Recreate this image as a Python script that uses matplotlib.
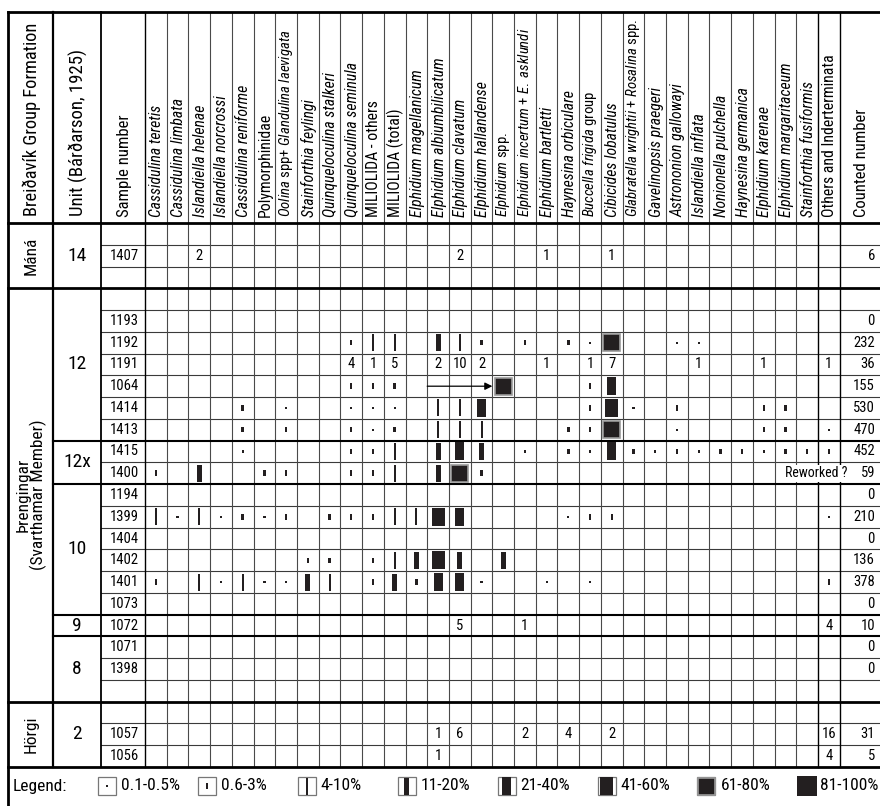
import re
import matplotlib.pyplot as plt
from matplotlib import font_manager
from matplotlib.patches import Rectangle

# ---- data -------------------------------------------------------------
species = ['*Cassidulina teretis*', '*Cassidulina limbata*', '*Islandiella helenae*',
           '*Islandiella norcrossi*', '*Cassidulina reniforme*', 'Polymorphinidae',
           '*Oolina* spp+ *Glandulina laevigata*', '*Stainforthia feylingi*',
           '*Quinqueloculina stalkeri*', '*Quinqueloculina seminula*', 'MILIOLIDA - others',
           'MILIOLIDA (total)', '*Elphidium magellanicum*', '*Elphidium albiumbilicatum*',
           '*Elphidium clavatum*', '*Elphidium hallandense*', '*Elphidium* spp.',
           '*Elphidium incertum* + *E. asklundi*', '*Elphidium bartletti*',
           '*Haynesina orbiculare*', '*Buccella frigida* group', '*Cibicides lobatulus*',
           '*Glabratella wrightii* + *Rosalina* spp.', '*Gavelinopsis praegeri*',
           '*Astrononion gallowayi*', '*Islandiella inflata*', '*Nonionella pulchella*',
           '*Haynesina germanica*', '*Elphidium karenae*', '*Elphidium margaritaceum*',
           '*Stainforthia fusiformis*', 'Others and Inderterminata']

samples = ['', '1407', '', '', '1193', '1192', '1191', '1064', '1414', '1413', '1415', '1400',
           '1194', '1399', '1404', '1402', '1401', '1073', '1072', '1071', '1398', '', '',
           '1057', '1056']
counted = ['', '6', '', '', '0', '232', '36', '155', '530', '470', '452', '59',
           '0', '210', '0', '136', '378', '0', '10', '0', '0', '', '', '31', '5']

units = [('14', 0, 3), ('12', 3, 10), ('12x', 10, 12), ('10', 12, 18),
         ('9', 18, 19), ('8', 19, 22), ('2', 22, 25)]
formations = [('Máná', 0, 3), ('Þrengingar\n(Svarthamar Member)', 3, 22), ('Hörgi', 22, 25)]

# abundance class per cell: a=0.1-0.5% ... h=81-100%, digits = counted specimens
E = '. . . . . . . . | . . . . . . . . | . . . . . . . . | . . . . . . . .'
cells = {
    '1407': '. . 2 . . . . . | . . . . . . 2 . | . . 1 . . 1 . . | . . . . . . . .',
    '1192': '. . . . . . . . | . b c c . d c b | . b . b a g . . | a a . . . . . .',
    '1191': '. . . . . . . . | . 4 1 5 . 2 10 2 | . . 1 . 1 7 . . | . 1 . . 1 . . 1',
    '1064': '. . . . . . . . | . b b b . . . . | g . . . b e . . | . . . . . . . .',
    '1414': '. . . . b . a . | . a a a . c c e | . . . . b f a . | b . . . b b . .',
    '1413': '. . . . b . b . | . b a b . c c c | . . . b b g . . | a . . . b b . a',
    '1415': '. . . . a . . . | . b b c . d e d | . a . b a e b a | b a b b a b b b',
    '1400': 'b . d . . b b . | . b b c . d g b | . . . . . . . . | . . . . . . . .',
    '1399': 'c a c a b a b . | b b b c c f e . | . . . a b b . . | . . . . . . . a',
    '1402': '. . . . . . . b | b . b c d f d . | d . . . . . . . | . . . . . . . .',
    '1401': 'b . c a c a a d | c . b d b e e a | . . a . a . . . | . . . . . . . b',
    '1072': '. . . . . . . . | . . . . . . 5 . | . 1 . . . . . . | . . . . . . . 4',
    '1057': '. . . . . . . . | . . . . . 1 6 . | . 2 . 4 . 2 . . | . . . . . . . 16',
    '1056': '. . . . . . . . | . . . . . 1 . . | . . . . . . . . | . . . . . . . 4',
}

legend_labels = ['0.1-0.5%', '0.6-3%', '4-10%', '11-20%', '21-40%', '41-60%', '61-80%', '81-100%']
legend_codes = ['a', 'b', 'c', 'd', 'e', 'f', 'g', 'h']

# ---- fonts -------------------------------------------------------------
fl = font_manager.fontManager.ttflist
FONT, S = 'DejaVu Sans', 0.8
for cand in ['Roboto Condensed', 'Fira Sans Condensed', 'Asap Condensed',
             'Archivo Narrow', 'PT Sans Narrow', 'Liberation Sans Narrow']:
    styles = {f.style for f in fl if f.name == cand}
    if 'normal' in styles and 'italic' in styles:
        FONT, S = cand, 1.0
        break
plt.rcParams['font.family'] = [FONT, 'DejaVu Sans']
plt.rcParams['mathtext.fontset'] = 'custom'
plt.rcParams['mathtext.rm'] = FONT
plt.rcParams['mathtext.it'] = FONT + ':italic'

INK = '#231f20'
# symbol (width, height) in pixels for each abundance class
SYM = {'a': (2.2, 2.2), 'b': (2.4, 5.5), 'c': (2.0, 17), 'd': (5, 17),
       'e': (9, 18), 'f': (13, 18), 'g': (17, 17), 'h': (20, 20)}

LEFT, F_R, U_R, S_R = 8, 53, 101, 145
TOP, HEAD_B = 12, 223
RH, CW = 21.76, 21.71
NROW, NCOL = len(samples), len(species)
END_Y = HEAD_B + NROW * RH
C_R = S_R + NCOL * CW
RIGHT = 880


def row_y(i):
    return HEAD_B + i * RH


def col_x(j):
    return S_R + j * CW


def label_text(s):
    if s.startswith('*') and s.endswith('*') and s.count('*') == 2:
        return s[1:-1], 'italic', False
    if '*' not in s:
        return s, 'normal', False
    out = re.sub(r'\*(.+?)\*', lambda m: r'$\mathit{' + m.group(1).replace(' ', r'\ ') + '}$', s)
    return out, 'normal', True


def draw_symbol(ax, cx, cy, code):
    w, h = SYM[code]
    edge = '#9a9a9a' if code == 'g' else 'none'
    ax.add_patch(Rectangle((cx - w / 2, cy - h / 2), w, h, facecolor=INK,
                           edgecolor=edge, lw=1.2, zorder=4))


fig = plt.figure(figsize=(8.8, 8.06), dpi=100)
ax = fig.add_axes([0, 0, 1, 1])
ax.set_xlim(0, 880)
ax.set_ylim(806, 0)
ax.axis('off')

# ---- grid ----------------------------------------------------------------
unit_edges = sorted({u[1] for u in units} | {u[2] for u in units})
form_edges = sorted({f[1] for f in formations} | {f[2] for f in formations})
for i in range(NROW + 1):
    y = row_y(i)
    if i in form_edges:
        ax.plot([LEFT, RIGHT], [y, y], color='black', lw=2.0, zorder=3)
    elif i in unit_edges:
        ax.plot([F_R, RIGHT], [y, y], color='black', lw=1.5, zorder=3)
    else:
        ax.plot([U_R, RIGHT], [y, y], color='#3a3a3a', lw=0.8, zorder=2)
ax.plot([LEFT, RIGHT], [TOP, TOP], color='black', lw=2.0, zorder=3)

ax.plot([LEFT, LEFT], [TOP, 806], color='black', lw=2.0, zorder=3)
ax.plot([F_R, F_R], [TOP, END_Y], color='black', lw=1.6, zorder=3)
ax.plot([U_R, U_R], [TOP, END_Y], color='black', lw=1.3, zorder=3)
ax.plot([S_R, S_R], [TOP, END_Y], color='black', lw=1.0, zorder=3)
for j in range(1, NCOL + 1):
    x = col_x(j)
    dark = j >= NCOL - 1
    ax.plot([x, x], [TOP, END_Y], color='black' if dark else '#4a4a4a',
            lw=1.0 if dark else 0.8, zorder=2)

# ---- header ----------------------------------------------------------------
hy = HEAD_B - 6
ax.text((LEFT + F_R) / 2 + 1, hy - 1, 'Breiðavík Group Formation', rotation=90,
        rotation_mode='anchor', ha='left', va='center', fontsize=13.2 * S)
ax.text((F_R + U_R) / 2 + 1, hy - 1, 'Unit (Bárðarson, 1925)', rotation=90,
        rotation_mode='anchor', ha='left', va='center', fontsize=13.5 * S)
ax.text((U_R + S_R) / 2 + 1, hy, 'Sample number', rotation=90,
        rotation_mode='anchor', ha='left', va='center', fontsize=12 * S)
for j, sp in enumerate(species):
    txt, style, mixed = label_text(sp)
    ax.text(col_x(j) + CW / 2 + (0 if mixed else 1), hy, txt, rotation=90,
            rotation_mode='anchor', ha='left', va='center',
            fontsize=(10.6 if mixed else 11.3) * S, style=style)
ax.text((C_R + RIGHT) / 2 + 2, hy, 'Counted number', rotation=90,
        rotation_mode='anchor', ha='left', va='center', fontsize=12 * S)

# ---- formation / unit labels -------------------------------------------------
for name, a, b in formations:
    ax.text((LEFT + F_R) / 2 + 1, (row_y(a) + row_y(b)) / 2, name, rotation=90,
            ha='center', va='center', multialignment='center', fontsize=12.5 * S,
            linespacing=0.95)
for name, a, b in units:
    ax.text((F_R + U_R) / 2, (row_y(a) + row_y(b)) / 2, name,
            ha='center', va='center', fontsize=14 * S)

# ---- rows -----------------------------------------------------------------
for i, (smp, cnt) in enumerate(zip(samples, counted)):
    cy = row_y(i) + RH / 2
    if smp:
        ax.text(U_R + 9, cy, smp, ha='left', va='center', fontsize=10.5 * S)
    if cnt:
        ax.text(RIGHT - 5, cy, cnt, ha='right', va='center', fontsize=10.5 * S)
    tokens = cells.get(smp, E).replace('|', ' ').split()
    assert len(tokens) == NCOL
    for j, tok in enumerate(tokens):
        cx = col_x(j) + CW / 2
        if tok == '.':
            continue
        if tok in SYM:
            draw_symbol(ax, cx, cy, tok)
        else:
            ax.text(cx, cy, tok, ha='center', va='center', fontsize=10.5 * S)

# arrow in sample 1064: E. albiumbilicatum -> Elphidium spp.
r = samples.index('1064')
ya = row_y(r) + RH / 2
ax.annotate('', xy=(col_x(16), ya), xytext=(col_x(13), ya),
            arrowprops=dict(arrowstyle='-|>', color='black', lw=0.9,
                            mutation_scale=11, shrinkA=0, shrinkB=0), zorder=5)

r = samples.index('1400')
ax.text(col_x(31) - 2, row_y(r) + RH / 2, 'Reworked ?', ha='center', va='center',
        fontsize=10 * S, zorder=5,
        bbox=dict(facecolor='white', edgecolor='none', pad=1.0))

# ---- legend -------------------------------------------------------------------
ly = END_Y + 19
ax.text(LEFT + 5, ly, 'Legend:', ha='left', va='center', fontsize=12.5 * S)
lx0, lstep, box = 98, 99.9, 18
for k, (lab, code) in enumerate(zip(legend_labels, legend_codes)):
    bx = lx0 + k * lstep
    if code != 'h':
        ax.add_patch(Rectangle((bx, ly - box / 2), box, box, facecolor='white',
                               edgecolor='#777777', lw=0.9, zorder=3))
        draw_symbol(ax, bx + box / 2, ly, code)
    else:
        ax.add_patch(Rectangle((bx, ly - 10), 20, 20, facecolor=INK,
                               edgecolor='none', zorder=3))
    ax.text(bx + box + 5, ly, lab, ha='left', va='center', fontsize=12.5 * S)

fig.savefig('out.png', dpi=100)
